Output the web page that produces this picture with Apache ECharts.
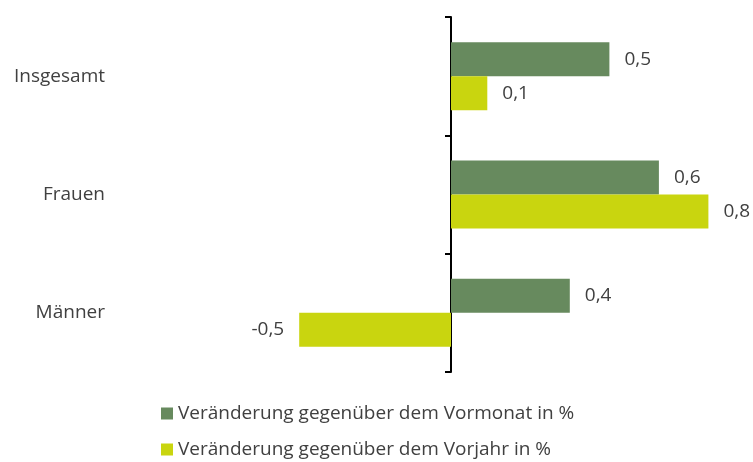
<!DOCTYPE html>
<html>
<head>
<meta charset="utf-8">
<script src="https://cdn.jsdelivr.net/npm/echarts@6/dist/echarts.min.js"></script>
<style>
  html, body { margin: 0; padding: 0; background: #fff; }
  #main { width: 753px; height: 462px; }
</style>
</head>
<body>
<div id="main"></div>
<script>
const categories = ["Insgesamt", "Frauen", "Männer"];
const seriesNames = [
  "Veränderung gegenüber dem Vormonat in %",
  "Veränderung gegenüber dem Vorjahr in %"
];
const vormonat = [0.48, 0.63, 0.36];
const vorjahr = [0.11, 0.78, -0.46];

const fontFamily = "'Open Sans', sans-serif";
const textColor = "#404040";
const fontSize = 19;

function fmt(v) {
  return (Math.round(v * 10) / 10).toFixed(1).replace(".", ",");
}

function toData(arr) {
  return arr.map((v) => ({
    value: v,
    label: { position: v < 0 ? "left" : "right" }
  }));
}

const myChart = echarts.init(document.getElementById("main"));

const option = {
  animation: false,
  textStyle: { fontFamily: fontFamily },
  grid: {
    left: 253, right: 5, top: 17, bottom: 90,
    containLabel: false,
    outerBoundsMode: "none"
  },
  legend: {
    orient: "vertical",
    left: 156,
    top: 399,
    height: 120,
    itemWidth: 12,
    itemHeight: 12,
    itemGap: 17,
    icon: "rect",
    textStyle: { fontSize: fontSize, color: textColor, fontFamily: fontFamily },
    data: seriesNames
  },
  xAxis: {
    type: "value",
    min: -0.6,
    max: 0.9,
    show: false
  },
  yAxis: {
    type: "category",
    data: categories,
    inverse: true,
    axisLine: { onZero: true, lineStyle: { color: "#000", width: 2 } },
    axisTick: { show: true, length: 6, lineStyle: { color: "#000", width: 2 } },
    axisLabel: {
      margin: 148,
      fontSize: fontSize,
      color: textColor,
      fontFamily: fontFamily
    },
    splitLine: { show: false }
  },
  series: [
    {
      name: seriesNames[0],
      type: "bar",
      barWidth: 34,
      barGap: "0%",
      itemStyle: { color: "#678A5E" },
      label: {
        show: true,
        distance: 15,
        fontSize: fontSize,
        color: textColor,
        formatter: (p) => fmt(p.value)
      },
      data: toData(vormonat)
    },
    {
      name: seriesNames[1],
      type: "bar",
      barWidth: 34,
      barGap: "0%",
      itemStyle: { color: "#C9D50F" },
      label: {
        show: true,
        distance: 15,
        fontSize: fontSize,
        color: textColor,
        formatter: (p) => fmt(p.value)
      },
      data: toData(vorjahr)
    }
  ]
};

option && myChart.setOption(option);
</script>
</body>
</html>
